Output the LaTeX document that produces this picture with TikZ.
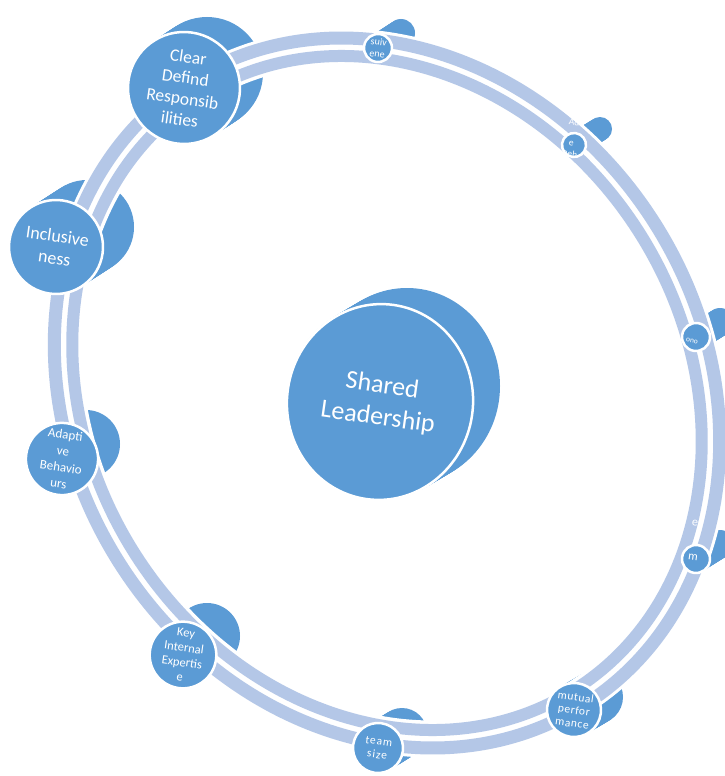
\documentclass[tikz,border=0pt]{standalone}
\usepackage{fontspec}
\setmainfont{Carlito}
\usetikzlibrary{shapes.geometric}
\definecolor{diskblue}{HTML}{5B9BD5}
\definecolor{bandblue}{HTML}{B4C7E7}
\newcommand{\backdisk}[5]{%
  \foreach \k in {0,...,20} {\fill[diskblue] ({#1+\k/20*(#4)},{#2+\k/20*(#5)}) circle[radius=#3pt];}%
}
\begin{document}
\begin{tikzpicture}[x=1pt,y=-1pt,
  front/.style={circle,fill=diskblue,draw=white,line width=2.5pt,inner sep=0pt,text=white,align=center,rotate=-8},
  lbl/.style={text=white,align=center,inner sep=0pt,rotate=-8}]
\useasboundingbox (0,0) rectangle (725,776);
% back faces of the disks
\backdisk{184}{88}{56}{23}{-15}
\backdisk{56}{247}{47}{31}{-20}
\backdisk{62}{459}{34}{24}{-15}
\backdisk{183}{655}{33}{24}{-19}
\backdisk{378}{748}{25}{24}{-15}
\backdisk{574}{710}{27}{22}{-13}
\backdisk{696}{559}{14}{24}{-15}
\backdisk{696}{337}{14}{24}{-15}
\backdisk{574}{145}{12}{26}{-16}
\backdisk{378}{48}{14}{23}{-15}
\foreach \k in {0,...,20} {\fill[diskblue] ({380+\k/20*27},{402-\k/20*16}) ellipse[x radius=93pt, y radius=98pt];}
% ring
\begin{scope}[shift={(387,393)}, rotate=-57.7]
\draw[white, line width=37pt] (0,0) ellipse[x radius=360pt, y radius=308pt];
\draw[bandblue, line width=13pt] (0,0) ellipse[x radius=369pt, y radius=317pt];
\draw[bandblue, line width=12pt] (0,0) ellipse[x radius=351pt, y radius=299pt];
\end{scope}
% front faces
\node[ellipse, fill=diskblue, draw=white, line width=2.5pt, minimum width=186pt, minimum height=196pt, inner sep=0pt, text=white, align=center, rotate=-8, font=\fontsize{26}{32}\selectfont] (shared) at (380,402) {Shared\\Leadership};
\node[front, minimum size=112pt, font=\fontsize{17.5}{21}\selectfont] (clear) at (184,88) {Clear\\Defind\\Responsib\\ilities};
\node[front, minimum size=94pt, font=\fontsize{18}{22}\selectfont] (incl) at (56,247) {Inclusive\\ness};
\node[front, minimum size=68pt, font=\fontsize{13}{16.5}\selectfont] (adapt) at (62,459) {Adapti\\ve\\Behavio\\urs};
\node[front, minimum size=66pt, font=\fontsize{12.5}{15}\selectfont] (key) at (183,655) {Key\\Internal\\Expertis\\e};
\node[front, minimum size=50pt, font=\fontsize{11.5}{13.3}\selectfont\addfontfeatures{LetterSpace=8}] (team) at (378,748) {team\\size};
\node[front, minimum size=54pt, font=\fontsize{11.5}{13.3}\selectfont\addfontfeatures{LetterSpace=5}] (mutual) at (574,710) {mutual\\perfor\\mance};
\node[front, minimum size=28pt] (mdisk) at (696,559) {};
\node[front, minimum size=28pt] (onodisk) at (696,337) {};
\node[front, minimum size=24pt] (addisk) at (574,145) {};
\node[front, minimum size=28pt, font=\fontsize{10}{12}\selectfont] (suiv) at (378,48) {suiv\\ene};
% overflowing small labels
\node[lbl, font=\fontsize{12}{14}\selectfont] (mtxt) at (693,557) {m};
\node[lbl, font=\fontsize{12}{14}\selectfont] (etxt) at (695,523) {e};
\node[lbl, font=\fontsize{7.5}{9}\selectfont] (onotxt) at (692,341) {ono};
\node[lbl, font=\fontsize{9.5}{11}\selectfont] (adtxt) at (572,138) {Ad\\[10pt]e\\Beh};
\end{tikzpicture}
\end{document}
